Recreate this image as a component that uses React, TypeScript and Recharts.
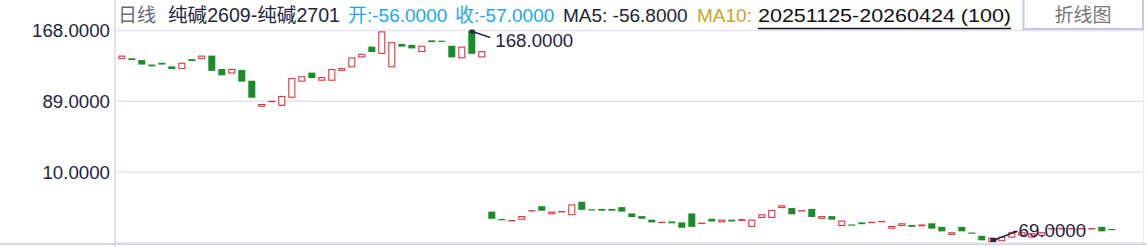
import React from 'react';
import { ComposedChart, Bar, XAxis, YAxis, CartesianGrid, ReferenceDot } from 'recharts';

// ---- data ----
const opens = [
  136, 137, 135, 130, 132, 128, 125, 136, 136, 140,
  125, 120, 124, 112, 83, 89, 84, 93, 111, 121,
  112, 112, 123, 127, 138, 150, 142, 127, 153, 152,
  144, 157, 156, 151, 137, 168, 138,
  -34, -43, -44, -43, -34, -28, -37, -35, -38, -23,
  -32, -31, -31, -29, -36, -39, -43, -47, -45, -46,
  -36, -48, -42, -46, -43, -45, -51, -41, -41, -30,
  -30, -34, -31, -42, -39, -50, -49, -46, -47, -46,
  -53, -50, -49, -51, -47, -51, -60, -51, -58, -61,
  -68, -67, -63, -61, -63, -61, -54, -54, -54, -54,
  -54, -51, -54,
];
const closes = [
  140, 135, 130, 128, 130, 125, 132, 134, 140, 123,
  118, 125, 111, 93, 86, 89, 95, 115, 117, 115,
  116, 125, 126, 138, 142, 144, 167, 155, 150, 148,
  151, 155, 155, 138, 150, 142, 145,
  -42, -44, -44, -39, -33, -33, -34, -34, -26, -32,
  -33, -33, -33, -34, -40, -42, -46, -46, -47, -52,
  -51, -47, -45, -43, -45, -43, -43, -37, -32, -27,
  -37, -33, -40, -39, -43, -44, -50, -48, -46, -45,
  -50, -47, -51, -49, -53, -56, -57, -56, -59, -66,
  -63, -62, -57, -57, -58, -57, -53, -53, -53, -53,
  -53, -56, -55,
];
const yTicks = [168, 89, 10, -69];
const highMark = { index: 35, value: 168, text: '168.0000' };
const lowMark = { index: 87, value: -69, text: '-69.0000' };
const headerTitle = '日线';
const headerPair = '纯碱2609-纯碱2701';
const headerOpen = '开:-56.0000';
const headerClose = '收:-57.0000';
const headerMA5 = 'MA5: -56.8000';
const headerMA10 = 'MA10:';
const headerRange = '20251125-20260424 (100)';
const buttonText = '折线图';

const RED = '#e3323b';
const GREEN = '#1a8c28';
const FONT = '"Liberation Sans", Arial, "Noto Sans CJK SC", sans-serif';
const CJK = '"Noto Sans CJK SC", "Liberation Sans", sans-serif';

const data = opens.map((o, i) => {
  const c = closes[i];
  return { i, o, c, body: [Math.min(o, c), Math.max(o, c)] };
});

const Candle = (props: any) => {
  const { x, y, width, height, payload } = props;
  if (x == null || y == null) return null;
  const up = payload.c >= payload.o;
  let top = y;
  let h = height || 0;
  if (h < 0) {
    top = y + h;
    h = -h;
  }
  if (up) {
    if (h < 2.5) {
      return <rect x={x} y={top - 0.6} width={width} height={Math.max(h, 1.4)} fill={RED} />;
    }
    return (
      <rect x={x + 0.5} y={top + 0.5} width={width - 1} height={h - 1} fill="#fff" stroke={RED} strokeWidth={1.1} />
    );
  }
  return <rect x={x} y={h < 1.2 ? top - 0.6 : top} width={width} height={Math.max(h, 1.2)} fill={GREEN} />;
};

const YTick = (p: any) => {
  const v = p.payload.value;
  if (v === -69) return <g />;
  return (
    <text x={p.x} y={p.y} dy="0.355em" textAnchor="end" fontSize={18.7} fontFamily={FONT} fill="#23233f">
      {v.toFixed(4)}
    </text>
  );
};

const HighShape = (p: any) => {
  const { cx, cy } = p;
  return (
    <g>
      <polygon points={`${cx - 3},${cy - 1} ${cx + 2},${cy - 1} ${cx + 3},${cy + 3} ${cx - 2},${cy + 3}`} fill="#2a2a44" />
      <line x1={cx} y1={cy + 1} x2={cx + 18} y2={cy + 7} stroke="#2a2a44" strokeWidth={1.6} />
      <text x={cx + 23} y={cy + 16.5} fontSize={18.7} fontFamily={FONT} fill="#23233f">
        {highMark.text}
      </text>
    </g>
  );
};

const LowShape = (p: any) => {
  const { cx, cy } = p;
  return (
    <g>
      <polygon points={`${cx - 2},${cy - 5} ${cx + 4},${cy - 5} ${cx + 4},${cy - 1} ${cx - 2},${cy - 1}`} fill="#2a2a44" />
      <line x1={cx + 2} y1={cy - 3} x2={cx + 24} y2={cy - 11.5} stroke="#2a2a44" strokeWidth={1.6} />
      <text x={cx + 20} y={cy - 6} fontSize={18.7} fontFamily={FONT} fill="#23233f">
        {lowMark.text}
      </text>
    </g>
  );
};

export default function App() {
  return (
    <div style={{ position: 'absolute', left: 0, top: 0, width: 1147, height: 247, background: '#fff', overflow: 'hidden' }}>
      {/* frame lines */}
      <div style={{ position: 'absolute', left: 114, top: 0, width: 1.5, height: 247, background: '#e2e2ee' }} />
      <div style={{ position: 'absolute', left: 1142.5, top: 30, width: 1.5, height: 214, background: '#e8e8f2' }} />
      <div style={{ position: 'absolute', left: 0, top: 243, width: 1147, height: 2, background: '#d2d3e8' }} />
      <div style={{ position: 'absolute', left: 0, top: 0 }}>
        <ComposedChart width={1147} height={247} data={data} margin={{ top: 30.5, right: 4, bottom: 4, left: 0 }}>
          <CartesianGrid horizontal vertical={false} stroke="#e4e4f0" strokeWidth={1.5} />
          <XAxis dataKey="i" type="number" domain={[-0.73, 102.07]} hide allowDataOverflow />
          <YAxis
            domain={[-69, 168]}
            ticks={yTicks}
            width={115}
            tickSize={0}
            tickMargin={5}
            axisLine={false}
            tick={<YTick />}
            interval={0}
            allowDataOverflow
          />
          <Bar dataKey="body" barSize={7} shape={<Candle />} isAnimationActive={false} />
          <ReferenceDot x={highMark.index} y={highMark.value} r={0} ifOverflow="visible" shape={<HighShape />} />
          <ReferenceDot x={lowMark.index} y={lowMark.value} r={0} ifOverflow="visible" shape={<LowShape />} />
        </ComposedChart>
      </div>
      <svg width={1147} height={40} style={{ position: 'absolute', left: 0, top: 0 }}>
        <text x={118} y={22} fontSize={19} fontFamily={CJK} fill="#6a6a7c">{headerTitle}</text>
        <text x={168} y={22} fontSize={19.4} fontFamily={FONT} fill="#262640" textLength={172} lengthAdjust="spacingAndGlyphs">{headerPair}</text>
        <text x={348} y={22} fontSize={19} fontFamily={FONT} fill="#22a6f2">{headerOpen}</text>
        <text x={455} y={22} fontSize={19} fontFamily={FONT} fill="#22a6f2">{headerClose}</text>
        <text x={563} y={22} fontSize={19} fontFamily={FONT} fill="#222230">{headerMA5}</text>
        <text x={697} y={22} fontSize={19} fontFamily={FONT} fill="#c9a227">{headerMA10}</text>
        <text x={758} y={22} fontSize={19} fontFamily={FONT} fill="#111" textLength={253} lengthAdjust="spacingAndGlyphs">{headerRange}</text>
        <line x1={758} y1={28.5} x2={1011} y2={28.5} stroke="#111" strokeWidth={1.6} />
        <rect x={1023.5} y={-2} width={119.5} height={31} fill="#fff" stroke="#c8c8e2" strokeWidth={2} />
        <text x={1083} y={22} fontSize={19} fontFamily={CJK} fill="#777" textAnchor="middle">{buttonText}</text>
      </svg>
    </div>
  );
}
